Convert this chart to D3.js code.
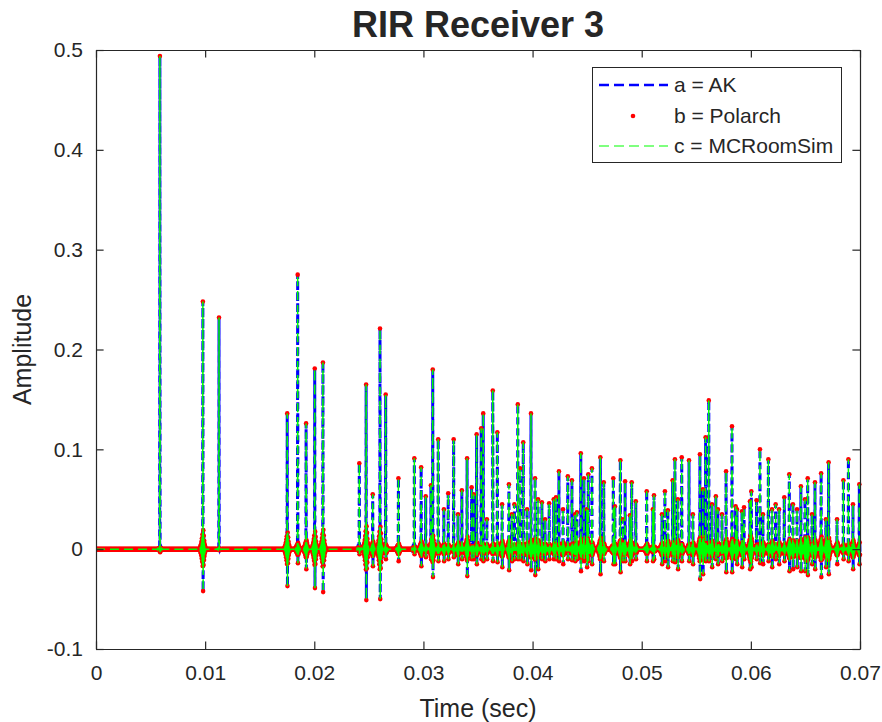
<!DOCTYPE html>
<html>
<head>
<meta charset="utf-8">
<script src="https://cdn.jsdelivr.net/npm/d3@7"></script>
<style>
    body { margin: 0; background: #fff; }
    text { font-family: "Liberation Sans", Arial, Helvetica, sans-serif; fill: #262626; }
</style>
</head>
<body>
<script>
// main reflections: time (sec), peak amplitude and the negative sample right after each peak
var spikeTimes = [0.00586, 0.00980, 0.01127, 0.01753, 0.01848, 0.01924, 0.02004, 0.02080,
    0.02412, 0.02474, 0.02535, 0.02602, 0.02654, 0.02770, 0.02916, 0.02980, 0.03021, 0.03069,
    0.03085, 0.03136, 0.03228, 0.03277, 0.03353, 0.03399, 0.03442, 0.03460, 0.03488, 0.03530,
    0.03548, 0.03635, 0.03677, 0.03784, 0.03833, 0.03864, 0.03885, 0.03915, 0.03986, 0.04022,
    0.04086, 0.04153, 0.04193, 0.04214, 0.04242, 0.04322, 0.04361, 0.04407, 0.04441, 0.04471,
    0.04510, 0.04544, 0.04620, 0.04652, 0.04740, 0.04804, 0.04847, 0.04908, 0.04945, 0.05046,
    0.05113, 0.05213, 0.05284, 0.05305, 0.05366, 0.05433, 0.05534, 0.05586, 0.05614, 0.05680,
    0.05772, 0.05827, 0.05861, 0.05937, 0.06004, 0.06053, 0.06084, 0.06160, 0.06227, 0.06306,
    0.06352, 0.06459, 0.06521, 0.06588, 0.06643, 0.06713, 0.06847, 0.06893, 0.06993];
var spikePeaks = [0.494, 0.248, 0.232, 0.136, 0.275, 0.126, 0.181, 0.187,
    0.086, 0.165, 0.055, 0.221, 0.155, 0.071, 0.091, 0.082, 0.053, 0.064,
    0.180, 0.110, 0.056, 0.110, 0.059, 0.091, 0.062, 0.055, 0.115, 0.121,
    0.136, 0.159, 0.117, 0.065, 0.045, 0.145, 0.081, 0.107, 0.136, 0.071,
    0.047, 0.046, 0.050, 0.052, 0.078, 0.073, 0.069, 0.037, 0.096, 0.071,
    0.075, 0.081, 0.092, 0.067, 0.071, 0.089, 0.068, 0.067, 0.048, 0.058,
    0.054, 0.058, 0.069, 0.090, 0.092, 0.089, 0.095, 0.112, 0.149, 0.053,
    0.078, 0.123, 0.043, 0.042, 0.058, 0.049, 0.100, 0.090, 0.045, 0.052,
    0.075, 0.063, 0.071, 0.067, 0.076, 0.087, 0.069, 0.090, 0.065];
var spikeDips = [-0.003, -0.042, -0.001, -0.037, -0.014, -0.020, -0.039, -0.043,
    -0.005, -0.051, -0.017, -0.050, -0.010, -0.012, -0.005, -0.017, -0.008, -0.010,
    -0.028, -0.012, -0.010, -0.008, -0.010, -0.027, -0.010, -0.010, -0.015, -0.010,
    -0.012, -0.012, -0.013, -0.021, -0.010, -0.010, -0.010, -0.012, -0.021, -0.026,
    -0.010, -0.010, -0.010, -0.010, -0.012, -0.010, -0.011, -0.010, -0.022, -0.012,
    -0.012, -0.015, -0.025, -0.012, -0.015, -0.023, -0.012, -0.012, -0.010, -0.012,
    -0.010, -0.012, -0.012, -0.013, -0.012, -0.012, -0.030, -0.012, -0.012, -0.010,
    -0.023, -0.023, -0.010, -0.010, -0.018, -0.010, -0.014, -0.012, -0.010, -0.012,
    -0.022, -0.022, -0.026, -0.020, -0.028, -0.025, -0.010, -0.012, -0.015];
// smaller reflections in the late, dense part
var minorTimes = [0.03188, 0.03317, 0.03582, 0.03720, 0.03811, 0.03949, 0.04050, 0.04114,
    0.04279, 0.04389, 0.04498, 0.04755, 0.04828, 0.04892, 0.05103, 0.05185, 0.05240, 0.05332,
    0.05469, 0.05561, 0.05643, 0.05698, 0.05735, 0.05873, 0.05918, 0.05992, 0.06111, 0.06193,
    0.06258, 0.06386, 0.06423, 0.06496, 0.06560, 0.06688, 0.06789, 0.06936];
var minorPeaks = [0.040, 0.035, 0.030, 0.045, 0.035, 0.040, 0.050, 0.030,
    0.040, 0.035, 0.040, 0.043, 0.030, 0.034, 0.040, 0.035, 0.039, 0.050,
    0.035, 0.060, 0.045, 0.040, 0.035, 0.040, 0.038, 0.048, 0.035, 0.040,
    0.040, 0.045, 0.040, 0.050, 0.035, 0.030, 0.030, 0.045];
var minorDips = [-0.012, -0.015, -0.010, -0.018, -0.012, -0.015, -0.020, -0.012,
    -0.015, -0.012, -0.018, -0.015, -0.012, -0.015, -0.012, -0.015, -0.018, -0.020,
    -0.015, -0.025, -0.018, -0.015, -0.012, -0.015, -0.018, -0.020, -0.015, -0.018,
    -0.015, -0.020, -0.018, -0.022, -0.015, -0.018, -0.015, -0.020];
// ringing seen around each reflection, as fractions of the dip size
var ringBefore = [0.05, -0.06, 0.08, -0.1, 0.12, -0.15, 0.18, -0.22, 0.26, -0.3, 0.35, -0.4];
var ringAfter = [0.45, -0.38, 0.32, -0.26, 0.2, -0.16, 0.12, -0.09, 0.07, -0.05];

var xTicks = [0, 0.01, 0.02, 0.03, 0.04, 0.05, 0.06, 0.07];
var yTicks = [-0.1, 0, 0.1, 0.2, 0.3, 0.4, 0.5];
var xTickLabels = ["0", "0.01", "0.02", "0.03", "0.04", "0.05", "0.06", "0.07"];
var yTickLabels = ["-0.1", "0", "0.1", "0.2", "0.3", "0.4", "0.5"];
var seriesNames = ["a = AK", "b = Polarch", "c = MCRoomSim"];

var fs = 48000;

function init() {
    var w = 882;
    var h = 722;
    var left = 96, right = 860, top = 50, bottom = 649;

    // build the sampled response: zeros with the read-off reflections placed in it
    var n = Math.round(0.07 * fs) + 1;
    var vals = new Array(n).fill(0);
    var times = spikeTimes.concat(minorTimes);
    var peaks = spikePeaks.concat(minorPeaks);
    var dips = spikeDips.concat(minorDips);
    times.forEach(function(t, i) {
        var k = Math.round(t * fs);
        var lvl = Math.abs(dips[i]);
        ringBefore.forEach(function(r, j) {
            var idx = k - ringBefore.length + j;
            if (idx >= 0) vals[idx] += r * lvl;
        });
        ringAfter.forEach(function(r, j) {
            var idx = k + 2 + j;
            if (idx < n) vals[idx] += r * lvl;
        });
    });
    times.forEach(function(t, i) {
        var k = Math.round(t * fs);
        vals[k] = peaks[i];
        if (k + 1 < n) vals[k + 1] = dips[i];
    });
    var data = vals.map(function(v, i) { return { t: i / fs, v: v }; });

    var xScale = d3.scaleLinear()
                    .domain([0, 0.07])
                    .range([left, right]);
    var yScale = d3.scaleLinear()
                    .domain([-0.1, 0.5])
                    .range([bottom, top]);

    var svg = d3.select("body")
                .append("svg")
                .attr("width", w)
                .attr("height", h)
                .style("display", "block");

    svg.append("rect")
        .attr("width", w)
        .attr("height", h)
        .attr("fill", "#fff");

    svg.append("clipPath").attr("id", "plotclip")
        .append("rect")
        .attr("x", left)
        .attr("y", top - 6)
        .attr("width", right - left + 4)
        .attr("height", bottom - top + 6);

    var line = d3.line()
                .x(function(d) { return xScale(d.t); })
                .y(function(d) { return yScale(d.v); });

    var plot = svg.append("g").attr("clip-path", "url(#plotclip)");

    // a = AK : blue dashed
    plot.append("path")
        .datum(data)
        .attr("d", line)
        .attr("fill", "none")
        .attr("stroke", "#0000ff")
        .attr("stroke-width", 3)
        .attr("stroke-dasharray", "7,4");

    // b = Polarch : red dots
    plot.append("g")
        .selectAll("circle")
        .data(data)
        .enter()
        .append("circle")
        .attr("cx", function(d) { return xScale(d.t); })
        .attr("cy", function(d) { return yScale(d.v); })
        .attr("r", 2.3)
        .attr("fill", "#ff0000");

    // c = MCRoomSim : thin green dashed
    plot.append("path")
        .datum(data)
        .attr("d", line)
        .attr("fill", "none")
        .attr("stroke", "#00ff00")
        .attr("stroke-width", 1.5)
        .attr("stroke-dasharray", "9,5");

    // axes box
    var axisColor = "#262626";
    var xAxis = d3.axisBottom(xScale)
                .tickValues(xTicks)
                .tickFormat(function(d, i) { return xTickLabels[i]; })
                .tickSizeInner(-7.6)
                .tickSizeOuter(0)
                .tickPadding(16);
    var yAxis = d3.axisLeft(yScale)
                .tickValues(yTicks)
                .tickFormat(function(d, i) { return yTickLabels[i]; })
                .tickSizeInner(-7.6)
                .tickSizeOuter(0)
                .tickPadding(13);
    var xTop = d3.axisTop(xScale).tickValues(xTicks).tickFormat("").tickSizeInner(-7.6).tickSizeOuter(0);
    var yRight = d3.axisRight(yScale).tickValues(yTicks).tickFormat("").tickSizeInner(-7.6).tickSizeOuter(0);

    var gx = svg.append("g")
        .attr("transform", "translate(0," + bottom + ")")
        .call(xAxis);
    var gy = svg.append("g")
        .attr("transform", "translate(" + left + ",0)")
        .call(yAxis);
    var gt = svg.append("g")
        .attr("transform", "translate(0," + top + ")")
        .call(xTop);
    var gr = svg.append("g")
        .attr("transform", "translate(" + right + ",0)")
        .call(yRight);

    [gx, gy, gt, gr].forEach(function(g) {
        g.selectAll("path, line").attr("stroke", axisColor).attr("stroke-width", 1.2);
        g.selectAll("text")
            .style("font-family", "'Liberation Sans', Arial, sans-serif")
            .style("font-size", "21px")
            .attr("fill", axisColor);
    });

    // axis labels
    svg.append("text")
        .attr("x", (left + right) / 2)
        .attr("y", 717)
        .attr("text-anchor", "middle")
        .style("font-size", "25px")
        .text("Time (sec)");
    svg.append("text")
        .attr("transform", "rotate(-90)")
        .attr("x", -(top + bottom) / 2)
        .attr("y", 31)
        .attr("text-anchor", "middle")
        .style("font-size", "25px")
        .text("Amplitude");

    // title
    svg.append("text")
        .attr("x", (left + right) / 2)
        .attr("y", 37)
        .attr("text-anchor", "middle")
        .style("font-size", "36px")
        .style("font-weight", "bold")
        .attr("fill", "#000")
        .text("RIR Receiver 3");

    // legend
    var lg = svg.append("g");
    lg.append("rect")
        .attr("x", 592.5)
        .attr("y", 67.5)
        .attr("width", 249)
        .attr("height", 95)
        .attr("fill", "#fff")
        .attr("stroke", axisColor)
        .attr("stroke-width", 1);
    var rowY = [85, 116, 146];
    lg.append("line")
        .attr("x1", 599).attr("x2", 668)
        .attr("y1", rowY[0]).attr("y2", rowY[0])
        .attr("stroke", "#0000ff")
        .attr("stroke-width", 2.5)
        .attr("stroke-dasharray", "10,5");
    lg.append("circle")
        .attr("cx", 633).attr("cy", rowY[1])
        .attr("r", 2.3)
        .attr("fill", "#ff0000");
    lg.append("line")
        .attr("x1", 599).attr("x2", 668)
        .attr("y1", rowY[2]).attr("y2", rowY[2])
        .attr("stroke", "#00ff00")
        .attr("stroke-width", 1.2)
        .attr("stroke-dasharray", "10,5");
    lg.selectAll("text.entry")
        .data(seriesNames)
        .enter()
        .append("text")
        .attr("class", "entry")
        .attr("x", 674)
        .attr("y", function(d, i) { return rowY[i] + 7; })
        .style("font-size", "21px")
        .attr("fill", "#000")
        .text(function(d) { return d; });
}
window.onload = init;
</script>
</body>
</html>
